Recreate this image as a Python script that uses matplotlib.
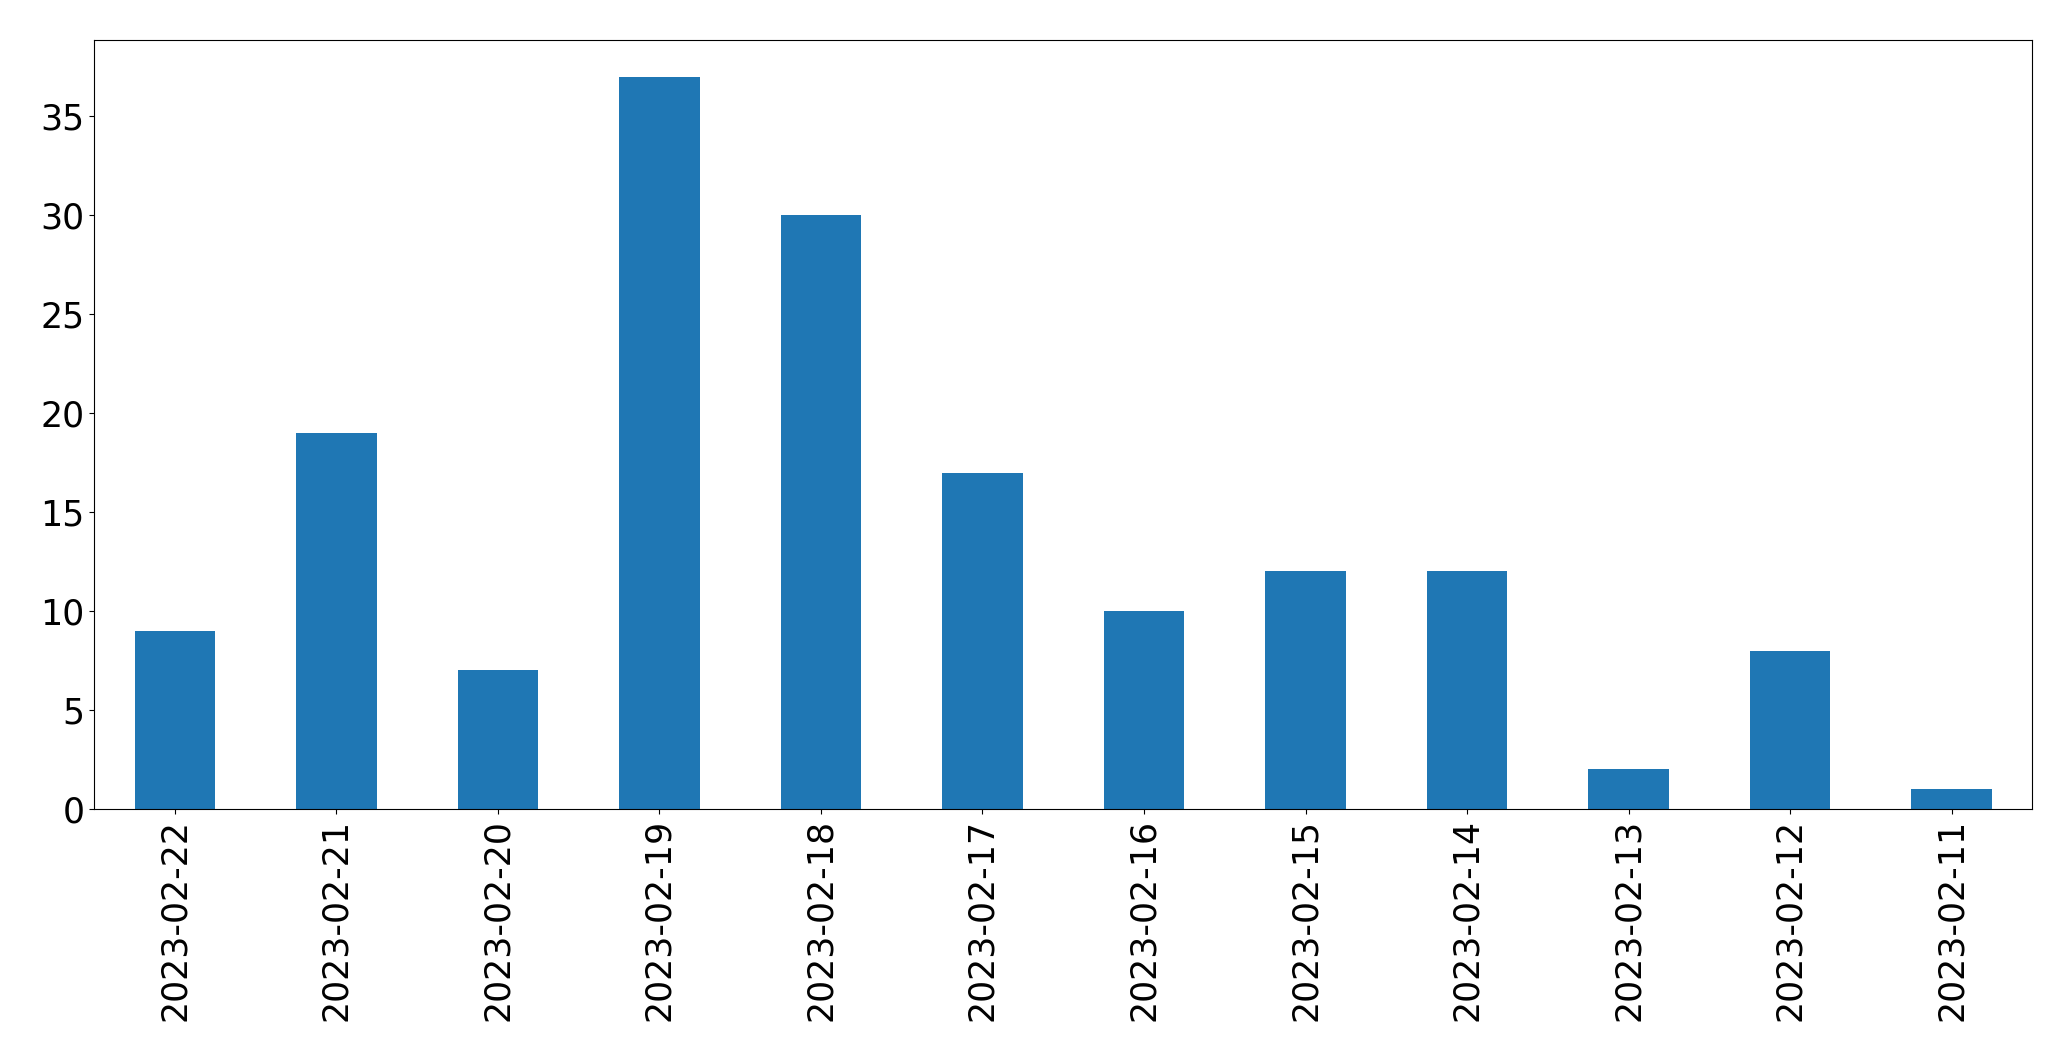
import matplotlib
matplotlib.use('Agg')
import matplotlib.pyplot as plt

# tanggal (urutan terbalik seperti di gambar) dan jumlah per hari
dates = ['2023-02-22', '2023-02-21', '2023-02-20', '2023-02-19', '2023-02-18', '2023-02-17',
         '2023-02-16', '2023-02-15', '2023-02-14', '2023-02-13', '2023-02-12', '2023-02-11']
counts = [9, 19, 7, 37, 30, 17, 10, 12, 12, 2, 8, 1]

fig = plt.figure(figsize=(20.71, 10.61), dpi=100)
ax = fig.add_axes([0.0455, 0.2375, 0.9358, 0.7248])

x = range(len(dates))
ax.bar(x, counts, width=0.5, color='#1f77b4')
ax.set_xlim(-0.5, len(dates) - 0.5)
ax.set_xticks(list(x))
ax.set_xticklabels(dates, rotation=90)
ax.tick_params(axis='both', labelsize=25)

plt.savefig('out.png', dpi=100)
